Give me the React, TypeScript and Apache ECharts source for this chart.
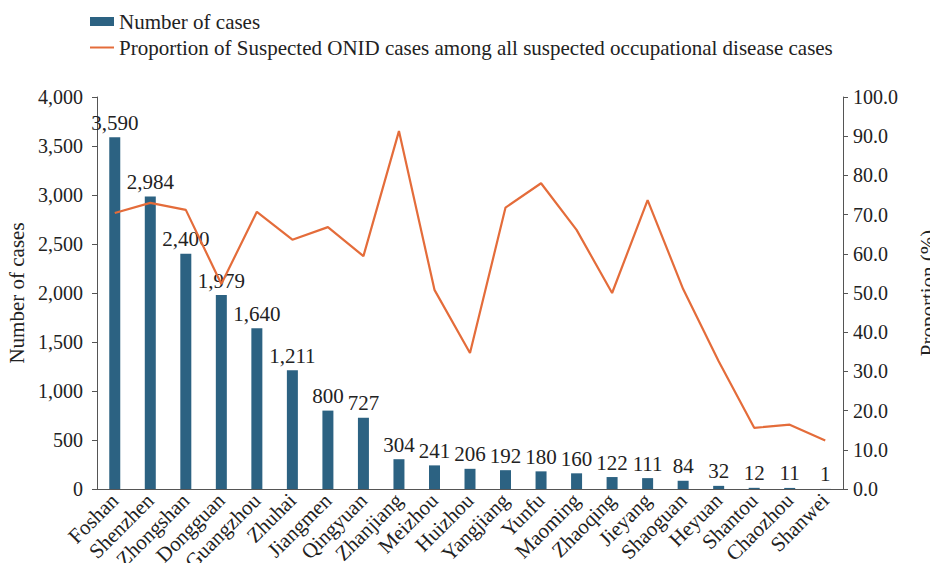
import React, { useEffect, useRef } from "react";
import * as echarts from "echarts";

const categories = ["Foshan", "Shenzhen", "Zhongshan", "Dongguan", "Guangzhou", "Zhuhai", "Jiangmen", "Qingyuan", "Zhanjiang", "Meizhou", "Huizhou", "Yangjiang", "Yunfu", "Maoming", "Zhaoqing", "Jieyang", "Shaoguan", "Heyuan", "Shantou", "Chaozhou", "Shanwei"];
const cases = [3590, 2984, 2400, 1979, 1640, 1211, 800, 727, 304, 241, 206, 192, 180, 160, 122, 111, 84, 32, 12, 11, 1];
const proportion = [70.4, 73.0, 71.2, 52.3, 70.7, 63.6, 66.8, 59.4, 91.3, 50.8, 34.7, 71.8, 78.0, 66.1, 50.0, 73.7, 51.0, 32.6, 15.6, 16.4, 12.4];

const FONT = "'Liberation Serif', 'Times New Roman', serif";
const FS = 20;
const FS2 = 21;

export default function App() {
  const ref = useRef<HTMLDivElement>(null);
  useEffect(() => {
    const chart = echarts.init(ref.current!, null, { renderer: "svg" });
    chart.setOption({
      animation: false,
      textStyle: { fontFamily: FONT, color: "#222" },
      legend: {
        orient: "vertical",
        left: 84,
        top: 6,
        itemGap: 5,
        itemWidth: 24,
        itemHeight: 9,
        textStyle: { fontFamily: FONT, fontSize: FS2, color: "#222" },
        data: [
          { name: "Number of cases", icon: "rect" },
          {
            name: "Proportion of Suspected ONID cases among all suspected occupational disease cases",
            itemStyle: { opacity: 0 },
          },
        ],
      },
      grid: { left: 97, right: 95, top: 97, bottom: 82, containLabel: false, outerBoundsMode: "none" },
      xAxis: {
        type: "category",
        data: categories,
        axisLine: { lineStyle: { color: "#555" } },
        axisTick: { show: false },
        axisLabel: { rotate: 45, fontFamily: FONT, fontSize: FS2, color: "#222", interval: 0, margin: 8 },
      },
      yAxis: [
        {
          type: "value",
          min: 0,
          max: 4000,
          interval: 500,
          name: "Number of cases",
          nameLocation: "middle",
          nameGap: 64,
          nameTextStyle: { fontFamily: FONT, fontSize: FS2, color: "#222" },
          axisLine: { show: true, lineStyle: { color: "#555" } },
          axisTick: { show: true, length: 5 },
          splitLine: { show: false },
          axisLabel: {
            fontFamily: FONT,
            fontSize: FS,
            color: "#222",
            margin: 14,
            formatter: (v: number) => v.toLocaleString("en-US"),
          },
        },
        {
          type: "value",
          min: 0,
          max: 100,
          interval: 10,
          name: "Proportion (%)",
          nameLocation: "middle",
          nameGap: 74,
          nameTextStyle: { fontFamily: FONT, fontSize: FS2, color: "#222" },
          axisLine: { show: true, lineStyle: { color: "#555" } },
          axisTick: { show: true, length: 5 },
          splitLine: { show: false },
          axisLabel: {
            fontFamily: FONT,
            fontSize: FS,
            color: "#222",
            margin: 10,
            formatter: (v: number) => v.toFixed(1),
          },
        },
      ],
      series: [
        {
          name: "Number of cases",
          type: "bar",
          data: cases,
          barWidth: 11,
          itemStyle: { color: "#2c6282" },
          label: {
            show: true,
            position: "top",
            distance: 4,
            fontFamily: FONT,
            fontSize: FS2,
            color: "#222",
            formatter: (p: any) => Number(p.value).toLocaleString("en-US"),
          },
        },
        {
          name: "Proportion of Suspected ONID cases among all suspected occupational disease cases",
          type: "line",
          yAxisIndex: 1,
          data: proportion,
          symbol: "none",
          lineStyle: { color: "#e46c3a", width: 2.2 },
          itemStyle: { color: "#e46c3a" },
        },
      ],
    });
    return () => chart.dispose();
  }, []);
  return <div ref={ref} style={{ width: 938, height: 571, margin: -8 }} />;
}
